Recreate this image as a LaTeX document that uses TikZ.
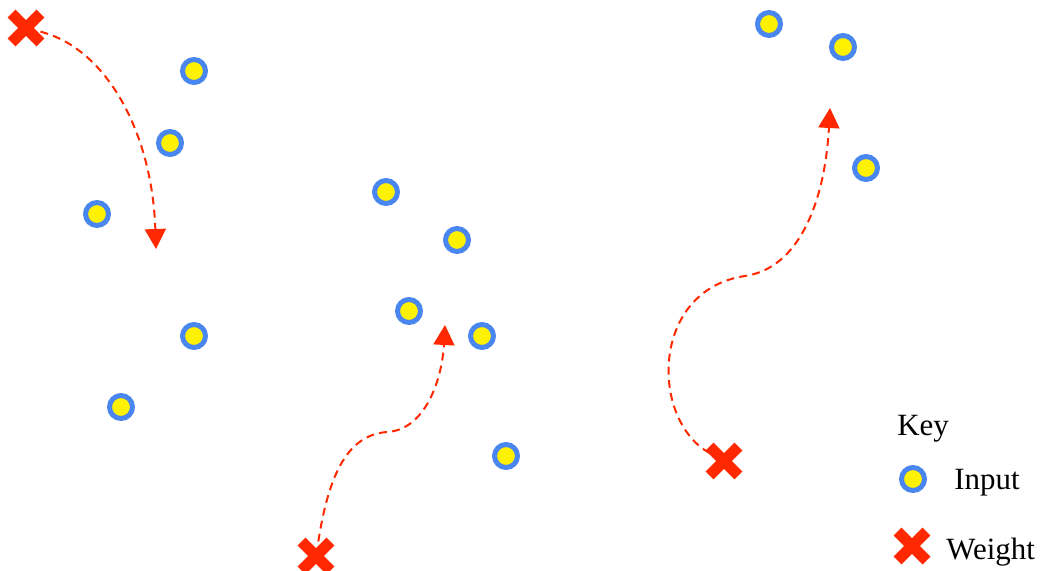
\documentclass[tikz,border=0pt]{standalone}
\usepackage{fontspec}
\setmainfont{Liberation Serif}
\usetikzlibrary{arrows.meta,shapes.misc}
\definecolor{ringblue}{RGB}{74,134,240}
\definecolor{wred}{RGB}{255,40,0}
\tikzset{input/.style={circle,draw=ringblue,fill=yellow,line width=0.1cm,minimum size=0.46cm,inner sep=0pt},weight/.style={cross out,draw=wred,line width=0.22cm,minimum size=0.36cm,inner sep=0pt},drift/.style={-{Triangle[width=0.42cm,length=0.4cm]},draw=wred,line width=0.04cm,dash pattern=on 4.5pt off 3pt}}

\begin{document}
\begin{tikzpicture}[x=0.02cm,y=-0.02cm,keytext/.style={anchor=base west,inner sep=0pt,font=\fontsize{17.6}{20}\selectfont}]
\useasboundingbox (0,0) rectangle (1046,571);
\node[input] (in1) at (194,71) {};
\node[input] (in2) at (170,143) {};
\node[input] (in3) at (97,214) {};
\node[input] (in4) at (194,336) {};
\node[input] (in5) at (121,407) {};
\node[input] (in6) at (386,192) {};
\node[input] (in7) at (457,240) {};
\node[input] (in8) at (409,311) {};
\node[input] (in9) at (482,336) {};
\node[input] (in10) at (506,456) {};
\node[input] (in11) at (769,24) {};
\node[input] (in12) at (843,47) {};
\node[input] (in13) at (866,168) {};
\node[weight] (w1) at (26,28) {};
\node[weight] (w2) at (316,556) {};
\node[weight] (w3) at (724,461) {};
\coordinate (t1) at (156,249);
\coordinate (m2) at (387,432);
\coordinate (t2) at (445,325);
\coordinate (m3) at (745,276);
\coordinate (t3) at (830,108);
\draw[drift] (w1) .. controls (105,48) and (152,130) .. (t1);
\draw[drift] (w2) .. controls (328,480) and (345,435) .. (m2) .. controls (425,430) and (442,380) .. (t2);
\draw[drift] (w3) .. controls (650,420) and (650,290) .. (m3) .. controls (800,268) and (825,200) .. (t3);
% key
\node[keytext] (key) at (897,435) {Key};
\node[input] (kin) at (913,479) {};
\node[keytext] (kinlab) at (954,489) {Input};
\node[weight] (kw) at (912,546) {};
\node[keytext] (kwlab) at (946,559) {Weight};
\end{tikzpicture}
\end{document}
